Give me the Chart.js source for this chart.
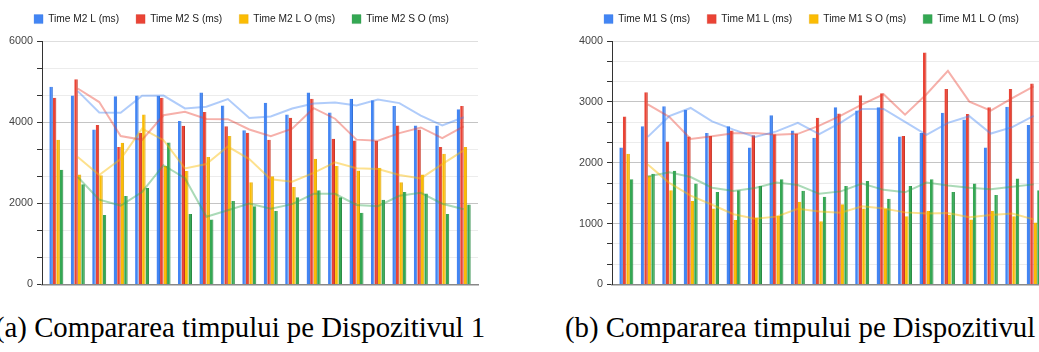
<!DOCTYPE html>
<html>
<head>
<meta charset="utf-8">
<title>Compararea timpului</title>
<script src="https://cdn.jsdelivr.net/npm/chart.js@4.4.1/dist/chart.umd.min.js"></script>
<style>
  html, body { margin: 0; padding: 0; background: #fff; overflow: hidden; }
  body { width: 1039px; height: 352px; position: relative; }
  .chartBox { position: absolute; top: 0; width: 486px; height: 295px; }
  #boxA { left: 0; }
  #boxB { left: 570px; }
  .caption {
    position: absolute; top: 313px;
    font-family: 'Liberation Serif', 'Times New Roman', serif;
    font-size: 28.8px; line-height: 28px; white-space: nowrap; color: #000;
  }
</style>
</head>
<body>
<div class="chartBox" id="boxA"><canvas id="chartM2"></canvas></div>
<div class="chartBox" id="boxB"><canvas id="chartM1"></canvas></div>
<div class="caption" style="left:-5px">(a) Compararea timpului pe Dispozitivul 1</div>
<div class="caption" style="left:565px">(b) Compararea timpului pe Dispozitivul 2</div>

<script>
// runs on the x axis (no labels shown on the chart)
const runs = [1, 2, 3, 4, 5, 6, 7, 8, 9, 10, 11, 12, 13, 14, 15, 16, 17, 18, 19, 20];

// ---- device 1 (M2) ----
const m2Names = ['Time M2 L (ms)', 'Time M2 S (ms)', 'Time M2 L O (ms)', 'Time M2 S O (ms)'];
const m2L  = [4870, 4660, 3820, 4640, 4660, 4650, 4030, 4730, 4410, 3800, 4480, 4190, 4730, 4240, 4580, 4540, 4400, 3920, 3920, 4320];
const m2S  = [4600, 5060, 3930, 3390, 3740, 4600, 3910, 4250, 3900, 3740, 3570, 4110, 4580, 3590, 3550, 3540, 3920, 3820, 3390, 4400];
const m2LO = [3570, 2710, 2690, 3490, 4190, 2920, 2800, 3140, 3660, 2520, 2670, 2400, 3100, 2920, 2810, 2880, 2520, 2710, 3220, 3390];
const m2SO = [2830, 2470, 1710, 2180, 2380, 3500, 1740, 1600, 2060, 1930, 1810, 2150, 2320, 2150, 1770, 2090, 2280, 2240, 1740, 1970];
// trend lines (moving average), they start at run 2
const m2LTrend  = [4765, 4240, 4230, 4650, 4655, 4340, 4380, 4570, 4105, 4140, 4335, 4460, 4485, 4410, 4560, 4470, 4160, 3920, 4120];
const m2STrend  = [4830, 4495, 3660, 3565, 4170, 4255, 4080, 4075, 3820, 3655, 3840, 4345, 4085, 3570, 3545, 3730, 3870, 3605, 3895];
const m2LOTrend = [3140, 2700, 3090, 3840, 3555, 2860, 2970, 3400, 3090, 2595, 2535, 2750, 3010, 2865, 2845, 2700, 2615, 2965, 3305];
const m2SOTrend = [2650, 2090, 1945, 2280, 2940, 2620, 1670, 1830, 1995, 1870, 1980, 2235, 2235, 1960, 1930, 2185, 2260, 1990, 1855];
const m2YLabels = [0, 2000, 4000, 6000];

// ---- device 2 (M1) ----
const m1Names = ['Time M1 S (ms)', 'Time M1 L (ms)', 'Time M1 S O (ms)', 'Time M1 L O (ms)'];
const m1S  = [2250, 2600, 2930, 2870, 2490, 2600, 2250, 2780, 2530, 2410, 2910, 2860, 2910, 2430, 2490, 2820, 2710, 2250, 2920, 2620];
const m1L  = [2760, 3160, 2350, 2430, 2440, 2530, 2450, 2470, 2480, 2740, 2810, 3110, 3140, 2440, 3810, 3210, 2800, 2910, 3210, 3300];
const m1SO = [2150, 1790, 1550, 1370, 1250, 1060, 1100, 1130, 1360, 1040, 1320, 1250, 1250, 1120, 1210, 1140, 1070, 1210, 1120, 1020];
const m1LO = [1730, 1820, 1870, 1660, 1520, 1550, 1620, 1730, 1540, 1440, 1620, 1700, 1410, 1620, 1730, 1520, 1660, 1470, 1740, 1550];
const m1STrend  = [2425, 2765, 2900, 2680, 2545, 2425, 2515, 2655, 2470, 2660, 2885, 2885, 2670, 2460, 2655, 2765, 2480, 2585, 2770];
const m1LTrend  = [2960, 2755, 2390, 2435, 2485, 2490, 2460, 2475, 2610, 2775, 2960, 3125, 2790, 3125, 3510, 3005, 2855, 3060, 3255];
const m1SOTrend = [1970, 1670, 1460, 1310, 1155, 1080, 1115, 1245, 1200, 1180, 1285, 1250, 1185, 1165, 1175, 1105, 1140, 1165, 1070];
const m1LOTrend = [1775, 1845, 1765, 1590, 1535, 1585, 1675, 1635, 1490, 1530, 1660, 1555, 1515, 1675, 1625, 1590, 1565, 1605, 1645];
const m1YLabels = [0, 1000, 2000, 3000, 4000];

// google sheets palette
const barColors   = ['#4285f4', '#ea4335', '#fbbc04', '#34a853'];
const edgeColors  = ['#2f6fd8', '#c5301f', '#d69e00', '#23873f'];
const trendColors = ['rgba(66,133,244,0.42)', 'rgba(234,67,53,0.42)', 'rgba(251,188,4,0.45)', 'rgba(52,168,83,0.42)'];

Chart.defaults.font.family = "'Liberation Sans', Arial, sans-serif";
Chart.defaults.animation = false;

function makeChart(canvasId, names, series, trends, yLabels) {
  const yMax = yLabels[yLabels.length - 1];
  const datasets = [];

  series.forEach((vals, k) => {
    datasets.push({
      type: 'bar',
      label: names[k],
      data: vals.map((v, i) => ({ x: runs[i], y: v })),
      backgroundColor: barColors[k],
      borderColor: edgeColors[k],
      borderWidth: { right: 1 },
      categoryPercentage: 0.653,
      barPercentage: 1,
      order: 1
    });
  });

  // trend lines sit on top of the bars
  trends.forEach((vals, k) => {
    datasets.push({
      type: 'line',
      label: names[k] + ' trend',
      data: vals.map((v, i) => ({ x: runs[i + 1], y: v })),
      borderColor: trendColors[k],
      borderWidth: 2,
      pointRadius: 0,
      tension: 0,
      fill: false,
      order: 0
    });
  });

  return new Chart(document.getElementById(canvasId), {
    type: 'bar',
    data: { datasets: datasets },
    options: {
      responsive: true,
      maintainAspectRatio: false,
      layout: { padding: { left: 5, right: 8, top: -3, bottom: 0 } },
      plugins: {
        tooltip: { enabled: false },
        legend: {
          position: 'top',
          labels: {
            boxWidth: 9,
            boxHeight: 9,
            padding: 17,
            color: '#222',
            font: { size: 10.2 },
            filter: (item) => item.datasetIndex < 4
          }
        },
        // empty title used as a spacer between legend and plot
        title: {
          display: true,
          text: '',
          weight: 500,
          font: { size: 1 },
          padding: { top: 0, bottom: 5.6 }
        }
      },
      scales: {
        x: {
          type: 'linear',
          min: 0.332,
          max: 20.668,
          offset: false,
          bounds: 'data',
          afterBuildTicks: (scale) => { scale.ticks = runs.map(r => ({ value: r })); },
          ticks: { display: false },
          grid: { display: false, drawTicks: false },
          border: { display: true, color: '#888', width: 1.5 }
        },
        y: {
          min: 0,
          max: yMax,
          // labelled ticks plus two minor lines in between
          afterBuildTicks: (scale) => {
            const t = [];
            for (let j = 0; j < yLabels.length - 1; j++) {
              const step = (yLabels[j + 1] - yLabels[j]) / 3;
              t.push({ value: yLabels[j], isLabel: true });
              t.push({ value: yLabels[j] + step, isLabel: false });
              t.push({ value: yLabels[j] + 2 * step, isLabel: false });
            }
            t.push({ value: yMax, isLabel: true });
            scale.ticks = t;
          },
          ticks: {
            color: '#444',
            padding: 4,
            font: { size: 10.8 },
            callback: (v, i, ticks) => ticks[i].isLabel ? v : ''
          },
          grid: {
            color: (ctx) => {
              if (!ctx.tick) return '#ececec';
              if (ctx.tick.value === 0) return 'rgba(0,0,0,0)';
              if (ctx.tick.value === yMax) return '#dedede';
              return ctx.tick.isLabel ? '#c4c4c4' : '#ececec';
            },
            tickColor: '#333',
            tickLength: 5
          },
          border: { display: true, color: '#333', width: 1 }
        }
      }
    }
  });
}

makeChart('chartM2', m2Names, [m2L, m2S, m2LO, m2SO], [m2LTrend, m2STrend, m2LOTrend, m2SOTrend], m2YLabels);
makeChart('chartM1', m1Names, [m1S, m1L, m1SO, m1LO], [m1STrend, m1LTrend, m1SOTrend, m1LOTrend], m1YLabels);
</script>
</body>
</html>
